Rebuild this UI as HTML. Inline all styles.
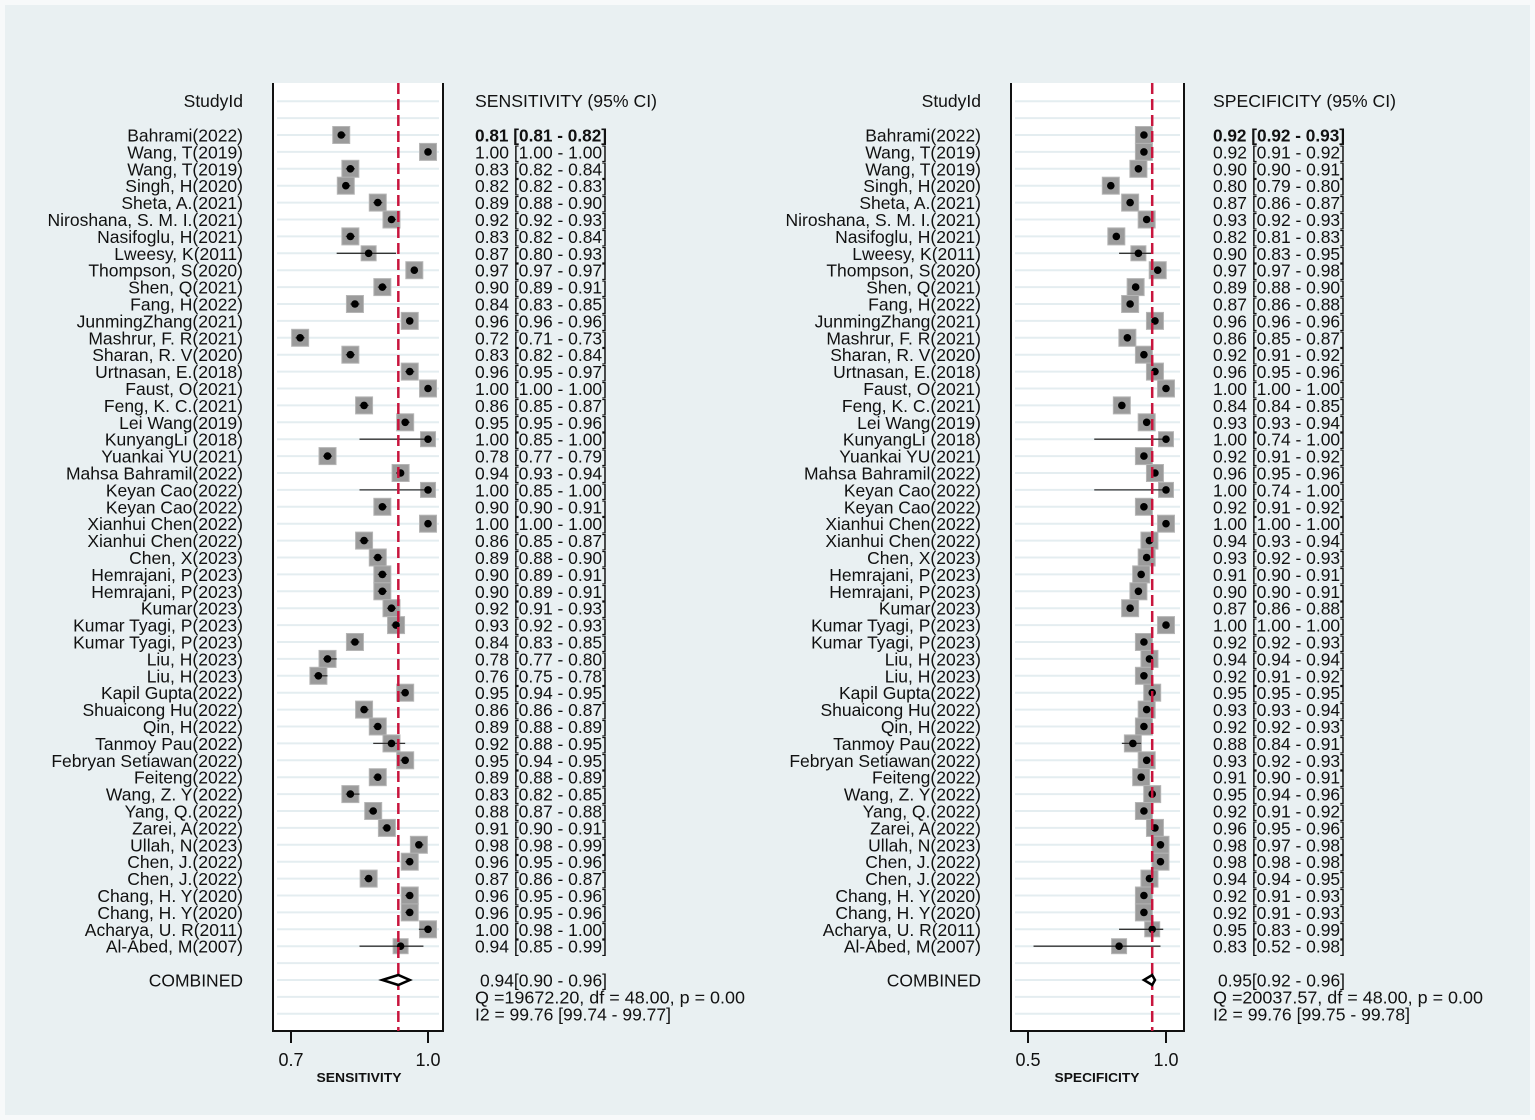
<!DOCTYPE html>
<html><head><meta charset="utf-8"><style>
html,body{margin:0;padding:0;background:#fff;}
svg{display:block;}
text{font-family:"Liberation Sans",Arial,sans-serif;fill:#111;}
</style></head>
<body>
<svg id="chart" width="1535" height="1120" viewBox="0 0 1535 1120" xmlns="http://www.w3.org/2000/svg">
<rect x="0" y="0" width="1535" height="1120" fill="#f7f9fa"/>
<rect x="5" y="5" width="1525" height="1110" fill="#e9f0f2"/>
<g id="left"></g>
<g id="right"></g>
</svg>
<script>
const studies = ["Bahrami(2022)","Wang, T(2019)","Wang, T(2019)","Singh, H(2020)","Sheta, A.(2021)","Niroshana, S. M. I.(2021)","Nasifoglu, H(2021)","Lweesy, K(2011)","Thompson, S(2020)","Shen, Q(2021)","Fang, H(2022)","JunmingZhang(2021)","Mashrur, F. R(2021)","Sharan, R. V(2020)","Urtnasan, E.(2018)","Faust, O(2021)","Feng, K. C.(2021)","Lei Wang(2019)","KunyangLi (2018)","Yuankai YU(2021)","Mahsa Bahramil(2022)","Keyan Cao(2022)","Keyan Cao(2022)","Xianhui Chen(2022)","Xianhui Chen(2022)","Chen, X(2023)","Hemrajani, P(2023)","Hemrajani, P(2023)","Kumar(2023)","Kumar Tyagi, P(2023)","Kumar Tyagi, P(2023)","Liu, H(2023)","Liu, H(2023)","Kapil Gupta(2022)","Shuaicong Hu(2022)","Qin, H(2022)","Tanmoy Pau(2022)","Febryan Setiawan(2022)","Feiteng(2022)","Wang, Z. Y(2022)","Yang, Q.(2022)","Zarei, A(2022)","Ullah, N(2023)","Chen, J.(2022)","Chen, J.(2022)","Chang, H. Y(2020)","Chang, H. Y(2020)","Acharya, U. R(2011)","Al-Abed, M(2007)"];
const sens   = [0.81,1.00,0.83,0.82,0.89,0.92,0.83,0.87,0.97,0.90,0.84,0.96,0.72,0.83,0.96,1.00,0.86,0.95,1.00,0.78,0.94,1.00,0.90,1.00,0.86,0.89,0.90,0.90,0.92,0.93,0.84,0.78,0.76,0.95,0.86,0.89,0.92,0.95,0.89,0.83,0.88,0.91,0.98,0.96,0.87,0.96,0.96,1.00,0.94];
const sensLo = [0.81,1.00,0.82,0.82,0.88,0.92,0.82,0.80,0.97,0.89,0.83,0.96,0.71,0.82,0.95,1.00,0.85,0.95,0.85,0.77,0.93,0.85,0.90,1.00,0.85,0.88,0.89,0.89,0.91,0.92,0.83,0.77,0.75,0.94,0.86,0.88,0.88,0.94,0.88,0.82,0.87,0.90,0.98,0.95,0.86,0.95,0.95,0.98,0.85];
const sensHi = [0.82,1.00,0.84,0.83,0.90,0.93,0.84,0.93,0.97,0.91,0.85,0.96,0.73,0.84,0.97,1.00,0.87,0.96,1.00,0.79,0.94,1.00,0.91,1.00,0.87,0.90,0.91,0.91,0.93,0.93,0.85,0.80,0.78,0.95,0.87,0.89,0.95,0.95,0.89,0.85,0.88,0.91,0.99,0.96,0.87,0.96,0.96,1.00,0.99];
const spec   = [0.92,0.92,0.90,0.80,0.87,0.93,0.82,0.90,0.97,0.89,0.87,0.96,0.86,0.92,0.96,1.00,0.84,0.93,1.00,0.92,0.96,1.00,0.92,1.00,0.94,0.93,0.91,0.90,0.87,1.00,0.92,0.94,0.92,0.95,0.93,0.92,0.88,0.93,0.91,0.95,0.92,0.96,0.98,0.98,0.94,0.92,0.92,0.95,0.83];
const specLo = [0.92,0.91,0.90,0.79,0.86,0.92,0.81,0.83,0.97,0.88,0.86,0.96,0.85,0.91,0.95,1.00,0.84,0.93,0.74,0.91,0.95,0.74,0.91,1.00,0.93,0.92,0.90,0.90,0.86,1.00,0.92,0.94,0.91,0.95,0.93,0.92,0.84,0.92,0.90,0.94,0.91,0.95,0.97,0.98,0.94,0.91,0.91,0.83,0.52];
const specHi = [0.93,0.92,0.91,0.80,0.87,0.93,0.83,0.95,0.98,0.90,0.88,0.96,0.87,0.92,0.96,1.00,0.85,0.94,1.00,0.92,0.96,1.00,0.92,1.00,0.94,0.93,0.91,0.91,0.88,1.00,0.93,0.94,0.92,0.95,0.94,0.93,0.91,0.93,0.91,0.96,0.92,0.96,0.98,0.98,0.95,0.93,0.93,0.99,0.98];
const pooledSens = [0.935,0.90,0.96];
const pooledSpec = [0.95,0.92,0.96];
const sensTicks = [0.7,1.0];
const specTicks = [0.5,1.0];
const sensStats = [" 0.94[0.90 - 0.96]","Q =19672.20, df = 48.00, p =  0.00","I2 = 99.76 [99.74 - 99.77]"];
const specStats = [" 0.95[0.92 - 0.96]","Q =20037.57, df = 48.00, p =  0.00","I2 = 99.76 [99.75 - 99.78]"];

const NS = "http://www.w3.org/2000/svg";
const rowY = i => 135 + i * 16.9;
function mk(parent, tag, attrs, txt) {
  const e = document.createElementNS(NS, tag);
  for (const k in attrs) e.setAttribute(k, attrs[k]);
  if (txt !== undefined) e.textContent = txt;
  parent.appendChild(e);
  return e;
}
function fmt(v){return v.toFixed(2);}

function panel(g, o) {
  const x = v => o.x0 + (v - o.v0) * o.ppu;
  const bg = mk(g, "rect", {x:o.left, y:83, width:o.right-o.left, height:1031-83, fill:"#fff"});
  
  
  for (let r = -2; r <= 52; r++) {
    const gl = mk(g, "line", {x1:o.left+4, x2:o.right-4, y1:rowY(r), y2:rowY(r), stroke:"#e4edf0", "stroke-width":2});
    
    
  }
  const ax = mk(g, "path", {d:`M${o.left},83 V1031 H${o.right} V83`, fill:"none", stroke:"#111", "stroke-width":2});
  
  
  o.ticks.forEach(t => {
    const tk = mk(g, "line", {x1:x(t), x2:x(t), y1:1031, y2:1043, stroke:"#111", "stroke-width":2});
    
    
    const tl = mk(g, "text", {x:x(t), y:1066, "text-anchor":"middle", "font-size":18}, t.toFixed(1));
    
    
  });
  const at = mk(g, "text", {x:o.titleX, y:1082, "text-anchor":"middle", "font-size":13, "font-weight":"bold", textLength:o.titleLen, lengthAdjust:"spacingAndGlyphs"}, o.axisTitle);
  
  
  const h1 = mk(g, "text", {x:o.labelX, y:107, "text-anchor":"end", "font-size":17.5}, "StudyId");
  
  
  const h2 = mk(g, "text", {x:o.valX, y:107, "font-size":17.5, textLength:o.hdrLen, lengthAdjust:"spacingAndGlyphs"}, o.header);
  
  
  studies.forEach((s, i) => {
    const y = rowY(i);
    const lab = mk(g, "text", {x:o.labelX, y:y+6.5, "text-anchor":"end", "font-size":17.5}, s);
    
    
    const lo = x(o.lo[i]), hi = x(o.hi[i]), p = x(o.pt[i]);
    const sz = (o.hi[i]-o.lo[i]) > 0.08 ? 15 : 17;
    const box = mk(g, "rect", {x:p-sz/2, y:y-sz/2, width:sz, height:sz, fill:"#9b9b9b", stroke:"#b5b5b5", "stroke-width":1});
    
    
    const ci = mk(g, "line", {x1:lo, x2:hi, y1:y, y2:y, stroke:"#333", "stroke-width":1.3});
    
    
    const dot = mk(g, "circle", {cx:p, cy:y, r:3.8, fill:"#000"});
    
    
    const vt = mk(g, "text", {x:o.valX, y:y+6.5, "font-size":17.5, textLength:132, lengthAdjust:"spacingAndGlyphs", "font-weight": i===0 ? "bold" : "normal"},
      `${fmt(o.pt[i])} [${fmt(o.lo[i])} - ${fmt(o.hi[i])}]`);
    
    
  });
  const cy = rowY(50);
  const cl = mk(g, "text", {x:o.labelX, y:cy+6.5, "text-anchor":"end", "font-size":17.5}, "COMBINED");
  
  
  const pl = mk(g, "line", {x1:x(o.pooled[0]), x2:x(o.pooled[0]), y1:83, y2:1031, stroke:"#c8153d", "stroke-width":2.5, "stroke-dasharray":"11 5"});
  
  
  const dm = mk(g, "polygon", {points:`${x(o.pooled[1])},${cy} ${x(o.pooled[0])},${cy-5} ${x(o.pooled[2])},${cy} ${x(o.pooled[0])},${cy+5}`, fill:"#fff", stroke:"#000", "stroke-width":2.5});
  
  
  const lens = [127, o.qLen, o.iLen];
  o.stats.forEach((s, k) => {
    const st = mk(g, "text", {x:o.valX + (k===0?5:0), y:rowY(50+k)+6.5, "font-size":17.5, textLength:lens[k], lengthAdjust:"spacingAndGlyphs"}, s);
    
    
  });
}

panel(document.getElementById("left"), {left:273, right:443, x0:291, v0:0.7, ppu:456.7, labelX:243, valX:475,
  pt:sens, lo:sensLo, hi:sensHi, pooled:pooledSens, ticks:sensTicks, stats:sensStats,
  header:"SENSITIVITY (95% CI)", axisTitle:"SENSITIVITY", qLen:270, iLen:196, hdrLen:182, titleX:359, titleLen:85});
panel(document.getElementById("right"), {left:1011, right:1184, x0:1028, v0:0.5, ppu:276, labelX:981, valX:1213,
  pt:spec, lo:specLo, hi:specHi, pooled:pooledSpec, ticks:specTicks, stats:specStats,
  header:"SPECIFICITY (95% CI)", axisTitle:"SPECIFICITY", qLen:270, iLen:197, hdrLen:183, titleX:1097, titleLen:85});
</script>
</body></html>
